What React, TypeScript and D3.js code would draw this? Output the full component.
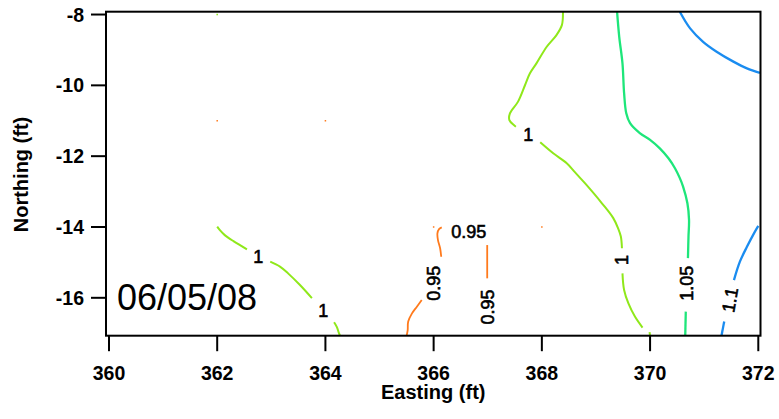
import React from "react";
import * as d3 from "d3";

// ---- data (Easting ft, Northing ft) ----
const xTicks = [360, 362, 364, 366, 368, 370, 372];
const yTicks = [-8, -10, -12, -14, -16];
const dateLabel = "06/05/08";

// contour level 0.95 (segments between labels)
const c095: [number, number][][] = [
  [[365.50, -17.07], [365.52, -16.92], [365.53, -16.67], [365.60, -16.44], [365.69, -16.25], [365.78, -16.06]],
  [[366.14, -14.84], [366.12, -14.60], [366.08, -14.37], [366.07, -14.18], [366.10, -14.06], [366.15, -14.01]],
  [[366.99, -14.51], [366.99, -15.45]],
];
// contour level 1
const c100: [number, number][][] = [
  [[362.00, -13.99], [362.05, -14.09], [362.14, -14.23], [362.30, -14.40], [362.55, -14.63]],
  [[362.98, -14.98], [363.16, -15.12], [363.31, -15.31], [363.53, -15.64], [363.75, -16.01]],
  [[364.16, -16.69], [364.21, -16.82], [364.25, -17.00], [364.27, -17.07]],
  [[368.39, -7.92], [368.37, -8.30], [368.27, -8.58], [368.09, -8.91], [367.90, -9.38], [367.78, -9.66], [367.69, -9.99], [367.56, -10.46], [367.41, -10.79], [367.40, -10.98], [367.52, -11.17]],
  [[367.97, -11.61], [368.21, -11.92], [368.46, -12.20], [368.61, -12.45], [368.80, -12.77], [369.11, -13.33], [369.32, -13.75], [369.41, -14.04], [369.46, -14.27], [369.48, -14.60]],
  [[369.49, -15.31], [369.52, -15.78], [369.60, -16.16], [369.72, -16.53], [369.86, -16.84]],
  [[369.99, -16.97], [370.00, -17.07]],
];
// contour level 1.05
const c105: [number, number][][] = [
  [[369.39, -7.92], [369.43, -8.63], [369.49, -9.38], [369.52, -10.22], [369.56, -10.79], [369.63, -11.07], [369.81, -11.35], [370.00, -11.54], [370.18, -11.78], [370.34, -12.06], [370.46, -12.34], [370.55, -12.62], [370.61, -12.86], [370.69, -13.33], [370.72, -13.80], [370.71, -14.27], [370.70, -14.88]],
  [[370.66, -16.39], [370.65, -17.07]],
];
// contour level 1.1
const c110: [number, number][][] = [
  [[370.55, -7.92], [370.74, -8.39], [370.98, -8.77], [371.23, -9.05], [371.54, -9.33], [371.79, -9.52], [372.03, -9.65]],
  [[372.00, -13.97], [371.92, -14.18], [371.79, -14.56], [371.66, -14.98], [371.55, -15.50]],
  [[371.37, -16.67], [371.32, -17.07]],
];

const labelText = ["1", "1", "0.95", "0.95", "0.95", "1", "1", "1.05", "1.1"];
const labelX = [362.76, 363.96, 366.01, 366.65, 367.00, 367.75, 369.49, 370.68, 371.48];
const labelY = [-14.86, -16.37, -15.59, -14.15, -16.26, -11.40, -14.93, -15.59, -16.06];
const labelAngle = [0, 0, -90, 0, -90, 0, -90, -90, -80];

const specksX = [362, 362, 364, 368, 366];
const specksY = [-8, -11, -11, -14, -14];
const specksLevel = [1, 0.95, 0.95, 0.95, 0.95];

const levelColor: Record<string, string> = {
  "0.95": "#ff7a1c",
  "1": "#8fe81a",
  "1.05": "#1ee67a",
  "1.1": "#1a8cf0",
};

const W = 779;
const H = 419;
const left = 106, right = 760.5, top = 11.7, bottom = 335.7;

export default function App() {
  const x = d3.scaleLinear().domain([359.945, 372.05]).range([left, right + 0.5]);
  const y = d3.scaleLinear().domain([-17.07, -7.92]).range([bottom, top]);
  const line = d3
    .line<[number, number]>()
    .x((d) => x(d[0]))
    .y((d) => y(d[1]))
    .curve(d3.curveCatmullRom.alpha(0.5));

  const font = "'Liberation Sans', Arial, Helvetica, sans-serif";
  const groups: [string, [number, number][][], number][] = [
    ["0.95", c095, 1.8],
    ["1", c100, 2],
    ["1.05", c105, 2.3],
    ["1.1", c110, 2.3],
  ];

  return (
    <svg
      width={W}
      height={H}
      style={{ position: "absolute", left: 0, top: 0, background: "#fff" }}
      fontFamily={font}
    >
      <rect x={0} y={0} width={W} height={H} fill="#fff" />
      {/* contours */}
      {groups.map(([lv, segs, sw]) =>
        segs.map((s, i) => (
          <path
            key={lv + i}
            d={line(s) || ""}
            fill="none"
            stroke={levelColor[lv]}
            strokeWidth={sw}
            strokeLinecap="butt"
          />
        ))
      )}
      {specksX.map((sx, i) => (
        <rect
          key={"sp" + i}
          x={x(sx) - 0.75}
          y={y(specksY[i]) - 0.75}
          width={1.5}
          height={1.5}
          fill={levelColor[String(specksLevel[i])]}
        />
      ))}
      {/* contour labels */}
      {labelText.map((t, i) => (
        <text
          key={"lb" + i}
          transform={`translate(${x(labelX[i])},${y(labelY[i])}) rotate(${labelAngle[i]})`}
          textAnchor="middle"
          dominantBaseline="central"
          fontSize={18}
          fill="#000"
          stroke="#000"
          strokeWidth={0.6}
        >
          {t}
        </text>
      ))}
      {/* frame */}
      <rect x={left} y={top} width={right - left} height={bottom - top} fill="none" stroke="#000" strokeWidth={2} />
      {/* x ticks */}
      {xTicks.map((t) => (
        <g key={"xt" + t}>
          <line x1={x(t)} x2={x(t)} y1={bottom} y2={bottom + 15.5} stroke="#000" strokeWidth={2} />
          <text x={x(t)} y={379.5} textAnchor="middle" fontSize={19.5} fontWeight="bold">
            {t}
          </text>
        </g>
      ))}
      {/* y ticks */}
      {yTicks.map((t) => (
        <g key={"yt" + t}>
          <line x1={left - 15} x2={left} y1={y(t)} y2={y(t)} stroke="#000" strokeWidth={2} />
          <text x={84} y={y(t) + 7} textAnchor="end" fontSize={19.5} fontWeight="bold">
            {t}
          </text>
        </g>
      ))}
      <text x={(left + right) / 2} y={399} textAnchor="middle" fontSize={20} fontWeight="bold">
        Easting (ft)
      </text>
      <text transform={`translate(28,174.5) rotate(-90)`} textAnchor="middle" fontSize={20} fontWeight="bold">
        Northing (ft)
      </text>
      <text x={117} y={310} fontSize={36}>
        {dateLabel}
      </text>
    </svg>
  );
}
